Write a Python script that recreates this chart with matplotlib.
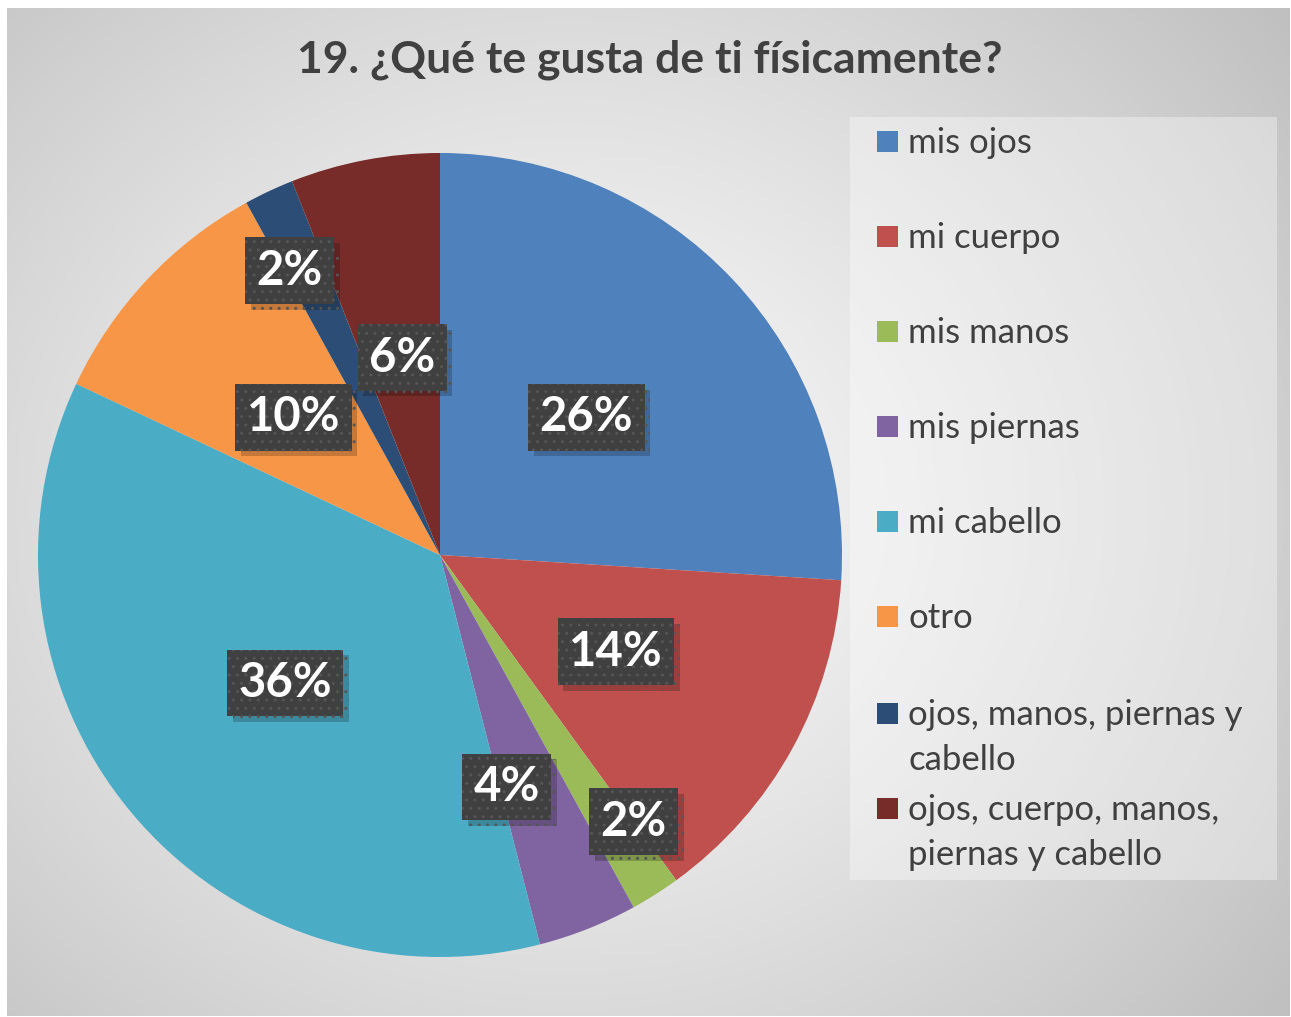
import numpy as np
import matplotlib
matplotlib.use("Agg")
import matplotlib.pyplot as plt
import matplotlib.patheffects as pe
from matplotlib.patches import Rectangle

# datos (respuestas de 50 alumnos)
categorias = ["mis ojos", "mi cuerpo", "mis manos", "mis piernas", "mi cabello", "otro",
              "ojos, manos, piernas y\ncabello", "ojos, cuerpo, manos,\npiernas y cabello"]
respuestas = [13, 7, 1, 2, 18, 5, 1, 3]
colores = ["#4F81BD", "#C0504D", "#9BBB59", "#8064A2", "#4BACC6", "#F79646", "#2C4D75", "#772C2A"]
dist_etiqueta = [0.5, 0.5, 0.82, 0.6, 0.5, 0.5, 0.8, 0.5]
giro_etiqueta = [0, 0, 3.6, -5.6, 0, 0, 2.7, 0]

TEXT_COLOR = "#404040"
FONT = ["Lato", "DejaVu Sans"]

W, H = 1291, 1017
fig = plt.figure(figsize=(W / 100, H / 100), dpi=100)
fig.patch.set_facecolor("white")

# fondo con degradado radial
bg = fig.add_axes([7 / W, 1 / H, 1283 / W, 1008 / H])
yy, xx = np.mgrid[0:1008, 0:1283]
d = np.sqrt(((xx - 560) / 900.0) ** 2 + ((yy - 500) / 800.0) ** 2)
d = np.clip(d, 0, 1)
shade = 0.975 - 0.22 * d ** 1.3
bg.imshow(np.dstack([shade] * 3), aspect="auto", extent=[0, 1, 0, 1], origin="upper")
bg.set_axis_off()

# pastel
ax = fig.add_axes([(440 - 402) / W, (462 - 402) / H, 804 / W, 804 / H])
wedges, _ = ax.pie(respuestas, colors=colores, startangle=90, counterclock=False,
                   radius=1, wedgeprops=dict(linewidth=0))
ax.set_xlim(-1, 1)
ax.set_ylim(-1, 1)

total = sum(respuestas)
for w, v, r, g in zip(wedges, respuestas, dist_etiqueta, giro_etiqueta):
    ang = np.deg2rad((w.theta1 + w.theta2) / 2 + g)
    x, y = r * np.cos(ang), r * np.sin(ang)
    t = ax.text(x, y, f"{round(100 * v / total)}%", ha="center", va="center", fontsize=34,
                fontweight="bold", family=FONT, color="white",
                bbox=dict(boxstyle="square,pad=0.24", facecolor="#404040", edgecolor="#555555",
                          hatch="..", linewidth=0))
    t.get_bbox_patch().set_path_effects([
        pe.SimplePatchShadow(offset=(4, -4), shadow_rgbFace="black", alpha=0.2),
        pe.Normal()])

# titulo
fig.text(650 / W, 1 - 60 / H, "19. ¿Qué te gusta de ti físicamente?", ha="center", va="center",
         fontsize=32, fontweight="bold", color=TEXT_COLOR, family=FONT)

# leyenda
fig.patches.append(Rectangle((850 / W, 1 - 880 / H), 427 / W, 763 / H, transform=fig.transFigure,
                             facecolor="white", alpha=0.35, linewidth=0))
y0 = 142
for i, (cat, col) in enumerate(zip(categorias, colores)):
    y = y0 + 95 * i if i < 6 else y0 + 95 * 5 + 97 + 95 * (i - 6)
    fig.patches.append(Rectangle((877 / W, 1 - (y + 10) / H), 21 / W, 21 / H,
                                 transform=fig.transFigure, facecolor=col, linewidth=0))
    fig.text(908 / W, 1 - (y - 15) / H, cat, ha="left", va="top", fontsize=25,
             color=TEXT_COLOR, family=FONT, linespacing=1.5)

fig.savefig("out.png", dpi=100)
